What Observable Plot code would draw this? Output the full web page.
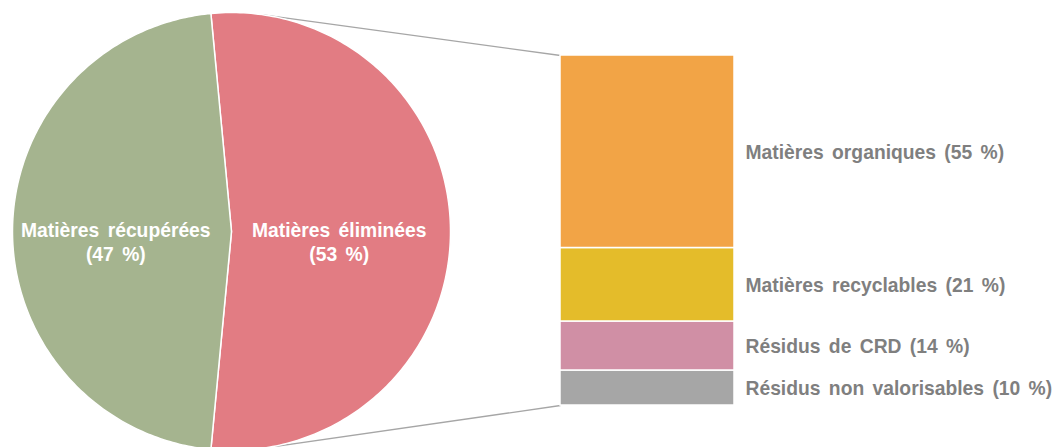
<!DOCTYPE html>
<html><head><meta charset="utf-8">
<script src="https://cdn.jsdelivr.net/npm/d3@7"></script>
<script src="https://cdn.jsdelivr.net/npm/@observablehq/plot@0.6"></script>
<style>body{margin:0;background:#fff;overflow:hidden} svg text{word-spacing:3px}</style>
</head><body><div id="chart"></div>
<script>
// ---- data ----
const pieCategories = ["Matières récupérées", "Matières éliminées"];
const pieValues = [47, 53];
const pieColors = ["#a5b48f", "#e27c83"];
const barCategories = ["Matières organiques", "Matières recyclables", "Résidus de CRD", "Résidus non valorisables"];
const barValues = [55, 21, 14, 10];
const barColors = ["#f2a446", "#e4bc2a", "#d08fa5", "#a6a6a6"];
const explodedIndex = 1;

// ---- layout ----
const W = 1059, H = 447;
const cx = 231, cy = 231, R = 219;
const barX1 = 560, barX2 = 734, barTop = 55, barBottom = 405;
const k = (barBottom - barTop) / 100;           // px per percent
const yMin = -(H - barBottom) / k, yMax = 100 + barTop / k;
const toYU = py => (barBottom - py) / k;

// ---- pie polygons ----
const total = d3.sum(pieValues);
const order = [explodedIndex, ...pieValues.map((_, i) => i).filter(i => i !== explodedIndex)];
let a = Math.PI / 2 - pieValues[explodedIndex] / total * Math.PI;
const pieRows = [], pieLabels = [];
for (const i of order) {
  const span = pieValues[i] / total * 2 * Math.PI;
  const cat = pieCategories[i];
  pieRows.push({cat, x: cx, y: toYU(cy)});
  const n = 200;
  for (let j = 0; j <= n; j++) {
    const t = a + span * j / n;
    pieRows.push({cat, x: cx + R * Math.sin(t), y: toYU(cy - R * Math.cos(t))});
  }
  pieRows.push({cat, x: cx, y: toYU(cy)});
  const mid = a + span / 2;
  pieLabels.push({text: `${cat}\n(${pieValues[i]} %)`, x: cx + 0.51 * R * Math.sin(mid), y: toYU(cy - 0.51 * R * Math.cos(mid))});
  a += span;
}

// ---- bar stack (first category on top) ----
const barRows = [];
let acc = 0;
for (let i = barValues.length - 1; i >= 0; i--) {
  barRows.push({cat: barCategories[i], value: barValues[i], y1: acc, y2: acc + barValues[i]});
  acc += barValues[i];
}

// ---- connectors: tangents from bar corners to pie ----
function tangent(px, py, upper) {
  const dx = px - cx, dy = py - cy, d = Math.hypot(dx, dy);
  const base = Math.atan2(dy, dx), al = Math.acos(R / d);
  const ang = upper ? base - al : base + al;
  return [cx + R * Math.cos(ang), cy + R * Math.sin(ang)];
}
const topT = tangent(barX1, barTop, true), botT = tangent(barX1, barBottom, false);
const connectors = [
  {id: "top", x1: topT[0], y1: toYU(topT[1]), x2: barX1, y2: 100},
  {id: "bot", x1: botT[0], y1: toYU(botT[1]), x2: barX1, y2: 0}
];

const chart = Plot.plot({
  width: W, height: H, margin: 0,
  x: {domain: [0, W], range: [0, W], axis: null},
  y: {domain: [yMin, yMax], range: [H, 0], axis: null},
  color: {domain: [...pieCategories, ...barCategories], range: [...pieColors, ...barColors]},
  style: {fontFamily: "'Liberation Sans', Arial, sans-serif", background: "#fff"},
  marks: [
    Plot.link(connectors, {x1: "x1", y1: "y1", x2: "x2", y2: "y2", stroke: "#a6a6a6", strokeWidth: 1.3}),
    Plot.line(pieRows, {x: "x", y: "y", z: "cat", fill: "cat", stroke: "#fff", strokeWidth: 1.5, curve: "linear"}),
    Plot.rect(barRows, {x1: () => barX1, x2: () => barX2, y1: "y1", y2: "y2", fill: "cat", stroke: "#fff", strokeWidth: 1.5}),
    Plot.text(barRows, {x: () => barX2 + 11, y: d => (d.y1 + d.y2) / 2, text: d => `${d.cat} (${d.value} %)`,
      textAnchor: "start", fill: "#7f7f7f", fontWeight: "bold", fontSize: 19.3, dy: 1}),
    Plot.text(pieLabels, {x: "x", y: "y", text: "text", fill: "#fff", fontWeight: "bold", fontSize: 19.3, lineHeight: 1.22, dy: 10, dx: -4})
  ]
});
document.getElementById("chart").appendChild(chart);
</script>
</body></html>
